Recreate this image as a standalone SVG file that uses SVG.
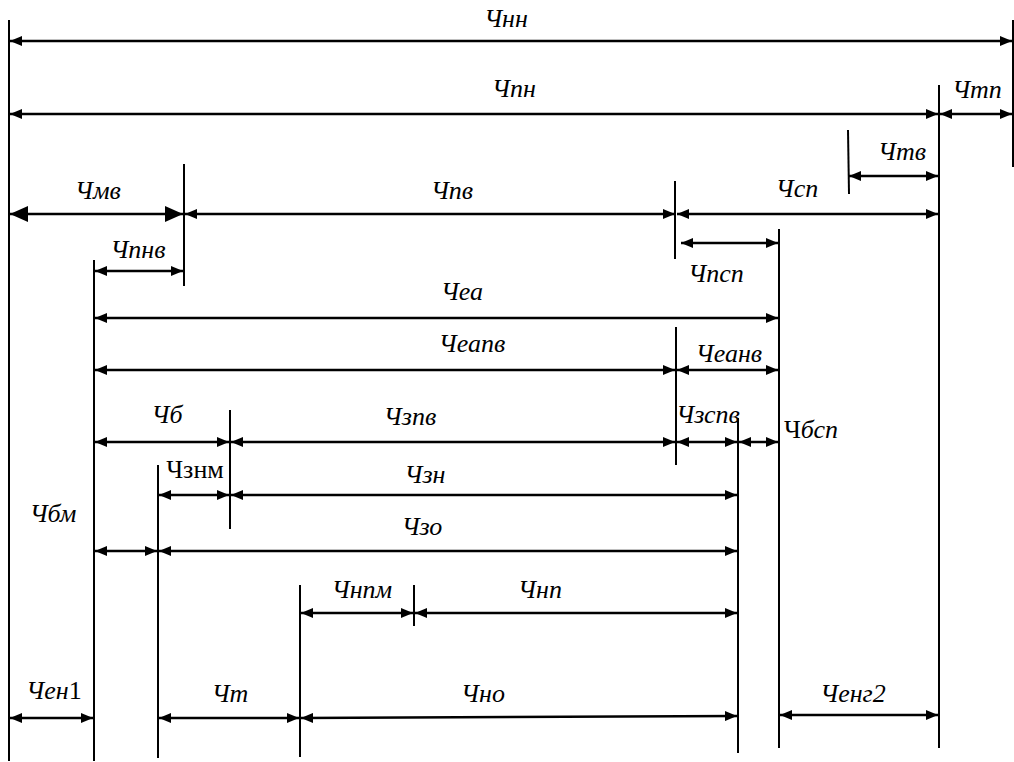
<svg xmlns="http://www.w3.org/2000/svg" width="1014" height="762" viewBox="0 0 1014 762">
<style>
.v{stroke:#000;stroke-width:2;fill:none}
.h{stroke:#000;stroke-width:2.6;fill:none;marker-start:url(#a);marker-end:url(#a)}
.hb{stroke:#000;stroke-width:2.6;fill:none;marker-start:url(#b);marker-end:url(#b)}
text{font-family:"Liberation Serif","DejaVu Serif","Times New Roman",serif;font-size:26px;font-style:italic;fill:#000;text-anchor:middle}
.u{font-style:normal}
</style>
<defs>
<marker id="a" markerUnits="userSpaceOnUse" viewBox="0 0 12 10" refX="12" refY="5" markerWidth="12" markerHeight="10" orient="auto-start-reverse"><path d="M0,0L12,5L0,10z" fill="#000"/></marker>
<marker id="b" markerUnits="userSpaceOnUse" viewBox="0 0 18 16" refX="18" refY="8" markerWidth="18" markerHeight="16" orient="auto-start-reverse"><path d="M0,0L18,8L0,16z" fill="#000"/></marker>
</defs>
<rect width="1014" height="762" fill="#fff"/>
<g id="verticals">
<line class="v" x1="9" y1="20" x2="9" y2="761"/>
<line class="v" x1="1013" y1="20" x2="1013" y2="167"/>
<line class="v" x1="939" y1="85" x2="939" y2="748"/>
<line class="v" x1="848" y1="130" x2="849" y2="194"/>
<line class="v" x1="184" y1="164" x2="184" y2="286"/>
<line class="v" x1="675" y1="181" x2="675" y2="259"/>
<line class="v" x1="779" y1="229" x2="779" y2="748"/>
<line class="v" x1="94" y1="260" x2="94" y2="761"/>
<line class="v" x1="676" y1="327" x2="676" y2="465"/>
<line class="v" x1="230" y1="410" x2="230" y2="529"/>
<line class="v" x1="158" y1="465" x2="158" y2="758"/>
<line class="v" x1="738" y1="418" x2="738" y2="753"/>
<line class="v" x1="300" y1="585" x2="300" y2="757"/>
<line class="v" x1="414" y1="585" x2="414" y2="626"/>
</g>
<g id="connectors">
<line class="h" x1="10" y1="41" x2="1012" y2="41"/>
<line class="h" x1="10" y1="114" x2="938" y2="114"/>
<line class="h" x1="940" y1="114" x2="1012" y2="114"/>
<line class="h" x1="849" y1="176" x2="938" y2="176"/>
<line class="hb" x1="10" y1="214" x2="183" y2="214"/>
<line class="h" x1="185" y1="214" x2="675" y2="214"/>
<line class="h" x1="677" y1="214" x2="938" y2="214"/>
<line class="h" x1="681" y1="243" x2="778" y2="243"/>
<line class="h" x1="95" y1="271" x2="183" y2="271"/>
<line class="h" x1="95" y1="318" x2="778" y2="318"/>
<line class="h" x1="95" y1="370" x2="675" y2="370"/>
<line class="h" x1="677" y1="370" x2="778" y2="370"/>
<line class="h" x1="95" y1="442" x2="229" y2="442"/>
<line class="h" x1="231" y1="442" x2="675" y2="442"/>
<line class="h" x1="677" y1="442" x2="737" y2="442"/>
<line class="h" x1="739" y1="442" x2="778" y2="442"/>
<line class="h" x1="159" y1="495" x2="229" y2="495"/>
<line class="h" x1="231" y1="495" x2="737" y2="495"/>
<line class="h" x1="95" y1="551" x2="157" y2="551"/>
<line class="h" x1="159" y1="551" x2="737" y2="551"/>
<line class="h" x1="301" y1="613" x2="413" y2="613"/>
<line class="h" x1="415" y1="613" x2="737" y2="613"/>
<line class="h" x1="10" y1="718" x2="93" y2="718"/>
<line class="h" x1="159" y1="718" x2="299" y2="718"/>
<line class="h" x1="301" y1="718" x2="737" y2="716"/>
<line class="h" x1="780" y1="715" x2="938" y2="715"/>
</g>
<g id="labels">
<text x="506" y="27">Чнн</text>
<text x="514" y="97">Чпн</text>
<text x="977" y="98">Чтп</text>
<text x="902" y="160">Чтв</text>
<text x="98" y="199">Чмв</text>
<text x="452" y="199">Чпв</text>
<text x="797" y="197">Чсп</text>
<text x="716" y="282">Чпсп</text>
<text x="138" y="258">Чпнв</text>
<text x="462" y="300">Чеа</text>
<text x="472" y="352">Чеапв</text>
<text x="729" y="362">Чеанв</text>
<text x="167" y="423">Чб</text>
<text x="410" y="425">Чзпв</text>
<text x="708" y="423">Чзспв</text>
<text x="811" y="438"><tspan class="u">Ч</tspan>бсп</text>
<text class="u" x="195" y="478">Чзнм</text>
<text x="425" y="483">Чзн</text>
<text x="53" y="522">Чбм</text>
<text x="422" y="535">Чзо</text>
<text x="362" y="598">Чнпм</text>
<text x="540" y="598">Чнп</text>
<text x="54" y="699">Чен<tspan class="u">1</tspan></text>
<text x="230" y="702">Чт</text>
<text x="483" y="702">Чно</text>
<text x="853" y="702">Ченг2</text>
</g>
</svg>
